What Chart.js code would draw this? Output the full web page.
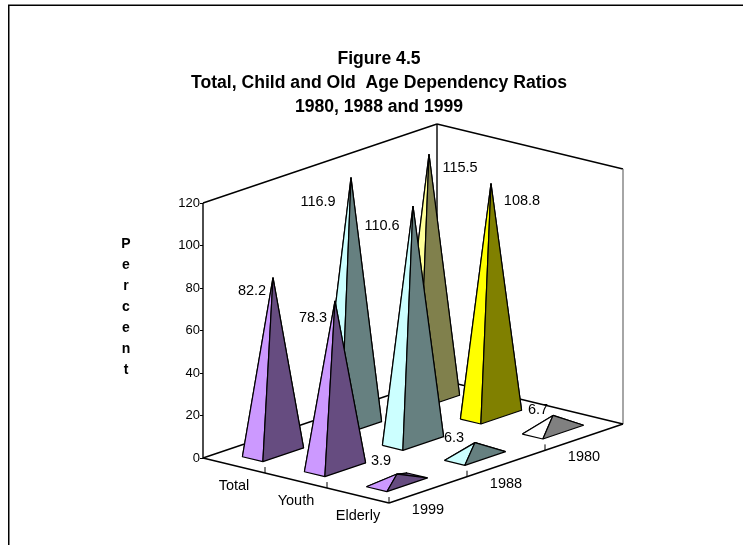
<!DOCTYPE html>
<html>
<head>
<meta charset="utf-8">
<style>
  html, body { margin: 0; padding: 0; background: #fff; }
  canvas { display: block; }
</style>
<script src="https://cdn.jsdelivr.net/npm/chart.js@4"></script>
</head>
<body>
<canvas id="pyramidChart" width="743" height="545"></canvas>
<script>
var categories = ['Total', 'Youth', 'Elderly'];
var years = ['1999', '1988', '1980'];
var values1999 = [82.2, 78.3, 3.9];
var values1988 = [116.9, 110.6, 6.3];
var values1980 = [115.5, 108.8, 6.7];
var valueTicks = [0, 20, 40, 60, 80, 100, 120];
var titleLines = ['Figure 4.5', 'Total, Child and Old  Age Dependency Ratios', '1980, 1988 and 1999'];
var axisLetters = ['P', 'e', 'r', 'c', 'e', 'n', 't'];

var seriesByYear = [values1999, values1988, values1980];

// [light face, dark face] for each year row / category
var faceColors = [
    [['#CC99FF', '#664C80'], ['#CC99FF', '#664C80'], ['#CC99FF', '#664C80']],
    [['#CCFFFF', '#668080'], ['#CCFFFF', '#668080'], ['#CCFFFF', '#668080']],
    [['#FFFF99', '#80804C'], ['#FFFF00', '#808000'], ['#FFFFFF', '#808080']]
];

// label offsets from the pyramid tip, in pixels
var labelOffsets = [
    [[-21, 13], [-22, 17], [-16, -13]],
    [[-33, 24], [-31, 20], [-21, -5]],
    [[31, 14], [31, 18], [-15, -5]]
];

// oblique projection of the floor, measured on the page
var pxPerUnit = 2.125;
var catDx = 186, catDy = 45;
var yearDx = 234, yearDy = -79;
var xSpan = catDx + yearDx;
var halfCat = 0.055, halfYear = 0.087;
var topValue = 120;

function project(u, w, v) {
    return {
        x: (catDx * u + yearDx * w) / xSpan,
        y: v - (catDy * u + yearDy * w) / pxPerUnit
    };
}

function poly(points, fillColor) {
    return {
        data: points,
        showLine: true,
        pointRadius: 0,
        borderColor: '#000',
        borderWidth: 1.2,
        borderJoinStyle: 'bevel',
        backgroundColor: fillColor,
        fill: 'shape',
        tension: 0,
        clip: false
    };
}

function edge(a, b, color, width) {
    return {
        data: [project(a[0], a[1], a[2]), project(b[0], b[1], b[2])],
        showLine: true,
        pointRadius: 0,
        borderColor: color || '#000',
        borderWidth: width || 1.4,
        fill: false,
        tension: 0,
        clip: false
    };
}

var paintList = [
    edge([0, 0, 0], [0, 0, topValue]),
    edge([0, 0, topValue], [0, 1, topValue]),
    edge([0, 1, 0], [0, 1, topValue]),
    edge([0, 1, topValue], [1, 1, topValue]),
    edge([1, 1, 0], [1, 1, topValue], '#808080'),
    edge([0, 0, 0], [0, 1, 0]),
    edge([0, 1, 0], [1, 1, 0]),
    edge([0, 0, 0], [1, 0, 0]),
    edge([1, 0, 0], [1, 1, 0])
];

// small ticks on the two front floor edges
[1, 2, 3].forEach(function (n) {
    paintList.push(edge([n / 3, 0, 0], [n / 3, 0, 2.8], '#000', 1));
});
[1, 2].forEach(function (n) {
    paintList.push(edge([1, n / 3, 0], [1, n / 3, 2.8], '#000', 1));
});

// far row first, so nearer pyramids cover it
for (var r = years.length - 1; r >= 0; r--) {
    for (var c = 0; c < categories.length; c++) {
        var u = (c + 0.5) / categories.length;
        var w = (r + 0.5) / years.length;
        var apex = project(u, w, seriesByYear[r][c]);
        var left = project(u - halfCat, w - halfYear, 0);
        var front = project(u + halfCat, w - halfYear, 0);
        var right = project(u + halfCat, w + halfYear, 0);
        var back = project(u - halfCat, w + halfYear, 0);
        var light = faceColors[r][c][0];
        var dark = faceColors[r][c][1];
        paintList.push(poly([left, back, apex, left], dark));
        paintList.push(poly([back, right, apex, back], dark));
        paintList.push(poly([left, front, apex, left], light));
        paintList.push(poly([front, right, apex, front], dark));
    }
}

var framePlugin = {
    id: 'frame',
    beforeDraw: function (chart) {
        var g = chart.ctx;
        g.save();
        g.strokeStyle = '#000';
        g.lineWidth = 1.5;
        g.beginPath();
        g.moveTo(8.75, chart.height);
        g.lineTo(8.75, 5.25);
        g.lineTo(chart.width, 5.25);
        g.stroke();
        g.restore();
    }
};

var textPlugin = {
    id: 'chartText',
    afterDraw: function (chart) {
        var g = chart.ctx;
        var sx = chart.scales.x, sy = chart.scales.y;
        function px(p) {
            return { x: sx.getPixelForValue(p.x), y: sy.getPixelForValue(p.y) };
        }
        g.save();
        g.fillStyle = '#000';
        g.textAlign = 'center';
        g.textBaseline = 'middle';
        g.font = '14.5px "Liberation Sans"';

        categories.forEach(function (name, c) {
            var p = px(project((c + 0.5) / categories.length, 0, 0));
            g.fillText(name, p.x, p.y + 20);
        });
        years.forEach(function (name, r) {
            var p = px(project(1, (r + 0.5) / years.length, 0));
            g.fillText(name, p.x, p.y + 20);
        });
        seriesByYear.forEach(function (row, r) {
            row.forEach(function (value, c) {
                var p = px(project((c + 0.5) / categories.length, (r + 0.5) / years.length, value));
                g.fillText(value.toFixed(1), p.x + labelOffsets[r][c][0], p.y + labelOffsets[r][c][1]);
            });
        });

        g.font = 'bold 14px "Liberation Sans"';
        axisLetters.forEach(function (letter, i) {
            g.fillText(letter, chart.chartArea.left - 77, sy.getPixelForValue(60) + (i - 3) * 21 - 23);
        });
        g.restore();
    }
};

new Chart(document.getElementById('pyramidChart'), {
    type: 'scatter',
    data: { datasets: paintList.reverse() },
    options: {
        responsive: false,
        animation: false,
        layout: { padding: { left: 135, right: 120, top: 47, bottom: 42 } },
        plugins: {
            legend: { display: false },
            tooltip: { enabled: false },
            title: {
                display: true,
                text: titleLines,
                color: '#000',
                font: { family: 'Liberation Sans', size: 17.6, weight: 'bold', lineHeight: 1.364 },
                padding: { top: 0, bottom: 5 }
            }
        },
        scales: {
            x: { type: 'linear', display: false, min: 0, max: 1 },
            y: {
                type: 'linear',
                min: project(1, 0, 0).y,
                max: project(0, 1, topValue).y,
                afterFit: function (scale) { scale.width = 68; },
                afterBuildTicks: function (scale) {
                    scale.ticks = valueTicks.map(function (v) { return { value: v }; });
                },
                border: { display: false },
                grid: { drawOnChartArea: false, drawTicks: true, tickLength: 3, color: '#000', lineWidth: 1 },
                ticks: {
                    autoSkip: false,
                    padding: 0,
                    color: '#000',
                    font: { family: 'Liberation Sans', size: 13 }
                }
            }
        }
    },
    plugins: [framePlugin, textPlugin]
});
</script>
</body>
</html>
